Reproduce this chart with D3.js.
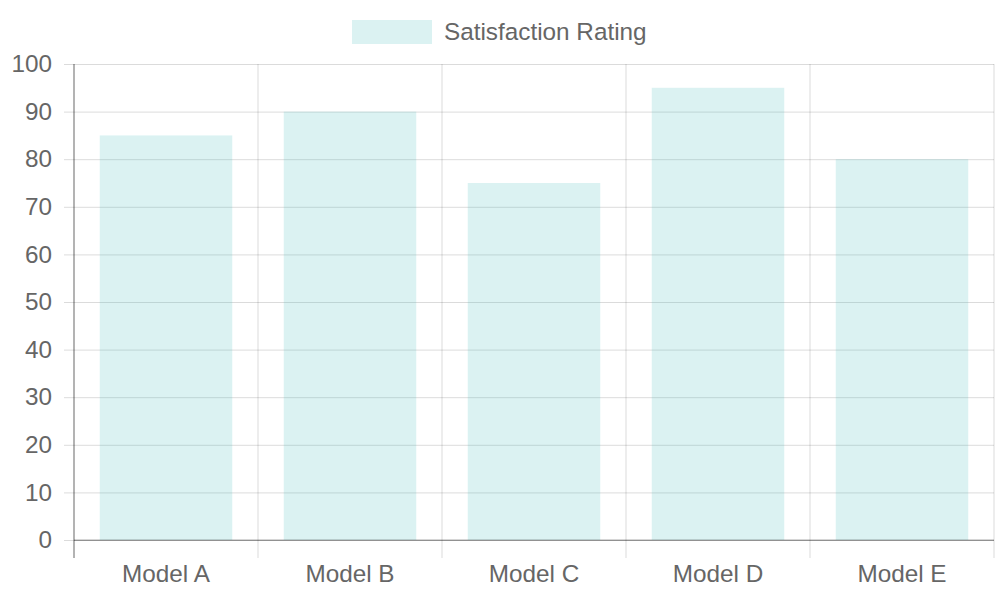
<!DOCTYPE html>
<html lang="en">
  <head>
    <meta charset="utf-8" />
    <title>Satisfaction Rating</title>
    <script src="https://cdn.jsdelivr.net/npm/d3@7"></script>
    <style>
      body { margin: 0; background: #fff; }
      text { font-family: "Liberation Sans", Arial, sans-serif; fill: #666; }
    </style>
  </head>
  <body>
    <div id="chart"></div>
    <script>
      // data
      const models = ["Model A", "Model B", "Model C", "Model D", "Model E"];
      const ratings = [85, 90, 75, 95, 80];
      const yTicks = [0, 10, 20, 30, 40, 50, 60, 70, 80, 90, 100];
      const seriesName = "Satisfaction Rating";

      const width = 1000, height = 600;
      const plotLeft = 74, plotRight = 994, plotTop = 64, plotBottom = 540;
      const barFill = "rgba(75,192,192,0.2)";
      const gridColor = "rgba(0,0,0,0.14)";
      const axisColor = "rgba(0,0,0,0.32)";

      const svg = d3.select("#chart").append("svg")
        .attr("width", width).attr("height", height);

      const x = d3.scaleBand().domain(models).range([plotLeft, plotRight]).padding(0);
      const y = d3.scaleLinear().domain([0, 100]).range([plotBottom, plotTop]);

      // horizontal grid + y ticks
      svg.append("g")
        .attr("transform", `translate(${plotLeft},0)`)
        .call(d3.axisLeft(y).tickValues(yTicks).tickSize(10).tickPadding(12))
        .call(g => g.select(".domain").remove())
        .call(g => g.selectAll(".tick line").attr("stroke", gridColor))
        .call(g => g.selectAll(".tick").append("line")
          .attr("x1", 0).attr("x2", plotRight - plotLeft)
          .attr("stroke", d => d === 0 ? axisColor : gridColor))
        .call(g => g.selectAll(".tick text").style("font-size", "24.3px").attr("fill", "#666"));

      // vertical grid at category boundaries
      const bounds = models.map(m => x(m)).concat([x(models[models.length - 1]) + x.bandwidth()]);
      svg.append("g").selectAll("line")
        .data(bounds)
        .join("line")
        .attr("x1", d => d).attr("x2", d => d)
        .attr("y1", plotTop).attr("y2", plotBottom + 18)
        .attr("stroke", (d, i) => i === 0 ? axisColor : gridColor);

      // bars
      const barW = x.bandwidth() * 0.72;
      svg.append("g").selectAll("rect")
        .data(ratings)
        .join("rect")
        .attr("x", (d, i) => x(models[i]) + (x.bandwidth() - barW) / 2)
        .attr("y", d => y(d))
        .attr("width", barW)
        .attr("height", d => y(0) - y(d))
        .attr("fill", barFill);

      // axis lines on top
      svg.append("line").attr("x1", plotLeft).attr("x2", plotLeft).attr("y1", plotTop).attr("y2", plotBottom + 18)
        .attr("stroke", axisColor);
      svg.append("line").attr("x1", plotLeft).attr("x2", plotRight).attr("y1", plotBottom).attr("y2", plotBottom)
        .attr("stroke", axisColor);

      // x labels
      svg.append("g").selectAll("text")
        .data(models)
        .join("text")
        .attr("x", d => x(d) + x.bandwidth() / 2)
        .attr("y", 582)
        .attr("text-anchor", "middle")
        .style("font-size", "24.3px")
        .text(d => d);

      // legend
      const legend = svg.append("g");
      legend.append("rect")
        .attr("x", 352).attr("y", 20).attr("width", 80).attr("height", 24)
        .attr("fill", barFill);
      legend.append("text")
        .attr("x", 444).attr("y", 40)
        .style("font-size", "24.3px")
        .text(seriesName);
    </script>
  </body>
</html>
